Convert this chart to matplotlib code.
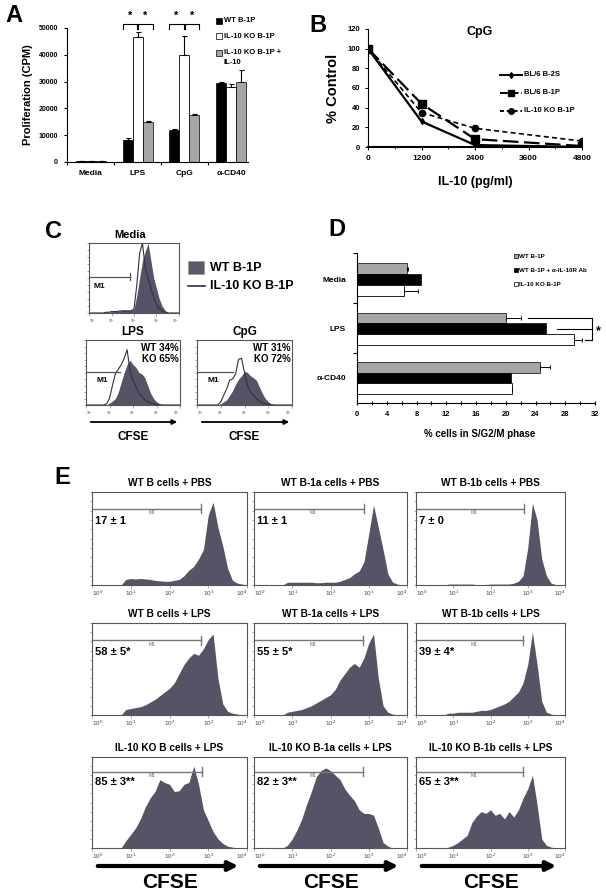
import numpy as np
import matplotlib
matplotlib.use('Agg')
import matplotlib.pyplot as plt
from matplotlib.patches import FancyArrowPatch, Rectangle
from matplotlib.lines import Line2D

plt.rcParams['font.family'] = ['Liberation Sans', 'DejaVu Sans']
plt.rcParams['font.weight'] = 'bold'
plt.rcParams['mathtext.default'] = 'regular'

# ---------------- data ----------------
# panel A: proliferation (CPM)
cats_A = ['Media', 'LPS', 'CpG', 'α-CD40']
wt_a = [300, 8200, 11800, 29500]
wt_a_err = [50, 700, 400, 200]
ko_a = [500, 46500, 40000, 28000]
ko_a_err = [50, 1900, 7000, 1000]
koil_a = [500, 15000, 17500, 30000]
koil_a_err = [50, 300, 300, 4300]

# panel B: % control vs IL-10
dose_B = [0, 1200, 2400, 4800]
b2s_B = [100, 26, 2, 0]
b1p_B = [100, 44, 8, 1]
kob1p_B = [100, 35, 19, 6]

# panel D: % cells in S/G2/M
cats_D = ['Media', 'LPS', 'α-CD40']
wt_D = [6.7, 20.0, 24.6]
wt_D_err = [0.2, 2.0, 1.4]
anti_D = [8.6, 25.4, 20.7]
ko_D = [6.3, 29.2, 20.8]
ko_D_err = [1.9, 1.1, 0]

# CFSE histograms, log10 fluorescence 0..4 in steps of 1/8, counts as % of box height
logx = np.arange(33) / 8.0
c_media_wt = [0, 0, 0, 0, 0, 0, 1, 1, 2, 2, 3, 3, 4, 4, 4, 4,
              6, 25, 50, 75, 88, 100, 75, 50, 35, 20, 10, 4, 1, 0, 0, 0, 0]
c_media_ko = [0, 0, 0, 0, 0, 0, 1, 1, 2, 2, 2, 3, 3, 3, 3, 3,
              6, 40, 85, 100, 65, 50, 35, 22, 12, 6, 3, 1, 0, 0, 0, 0, 0]
c_lps_wt = [0, 0, 0, 0, 0, 0, 0, 0, 3, 6, 10, 20, 35, 50, 62, 69,
            62, 58, 50, 48, 42, 30, 18, 10, 5, 2, 1, 0, 0, 0, 0, 0, 0]
c_lps_ko = [0, 0, 0, 0, 0, 0, 0, 2, 10, 30, 48, 55, 62, 72, 85, 52,
            38, 28, 18, 13, 8, 5, 3, 2, 1, 0, 0, 0, 0, 0, 0, 0, 0]
c_cpg_wt = [0, 0, 0, 0, 0, 0, 0, 0, 2, 5, 8, 15, 22, 32, 40, 45,
            52, 50, 45, 42, 38, 28, 18, 10, 5, 2, 1, 0, 0, 0, 0, 0, 0]
c_cpg_ko = [0, 0, 0, 0, 0, 0, 0, 0, 5, 15, 25, 38, 40, 48, 70, 72,
            50, 30, 20, 15, 10, 6, 3, 2, 1, 0, 0, 0, 0, 0, 0, 0, 0]

e_hists = [
    [0] * 7 + [6, 7, 6.5, 7, 6.5, 6, 5, 4.5, 4] + [4, 5, 6, 10, 16, 20, 28, 38] + [75, 89, 62, 42, 18, 5, 2, 1, 0],
    [0] * 7 + [3, 3, 3, 3, 3, 3, 2.5, 2.5, 3] + [3, 3, 4, 6, 8, 12, 15, 25] + [55, 86, 62, 38, 12, 3, 1, 0, 0],
    [0] * 7 + [1, 1, 1, 1, 1, 1, 0.5, 0.5, 0.5] + [1, 1, 1, 1, 1, 2, 4, 10] + [40, 88, 70, 28, 10, 2, 0.5, 0, 0],
    [0] * 7 + [6, 7, 8, 9, 11, 14, 17, 21, 25] + [29, 35, 45, 55, 62, 67, 65, 72] + [82, 88, 40, 12, 4, 2, 1, 0, 0],
    [0] * 7 + [3, 4, 5, 6, 8, 10, 13, 16, 19] + [22, 28, 38, 45, 52, 56, 52, 62] + [78, 88, 40, 10, 3, 1, 0, 0, 0],
    [0] * 7 + [2, 2, 3, 3, 3, 3, 4, 5, 5] + [6, 8, 10, 12, 15, 20, 25, 35] + [55, 90, 55, 15, 3, 1, 0, 0, 0],
    [0] * 7 + [8, 15, 22, 32, 45, 55, 62, 75, 72] + [70, 62, 63, 70, 72, 90, 70, 42] + [30, 18, 10, 5, 2, 1, 0, 0, 0],
    [0] * 7 + [3, 10, 20, 32, 48, 62, 78, 85, 88] + [85, 80, 75, 65, 58, 52, 42, 38] + [38, 36, 22, 6, 2, 0, 0, 0, 0],
    [0] * 7 + [1, 3, 6, 10, 14, 28, 35, 40, 38] + [42, 36, 38, 32, 40, 34, 42, 55] + [65, 80, 48, 10, 3, 1, 0, 0, 0],
]
e_titles = ['WT B cells + PBS', 'WT B-1a cells + PBS', 'WT B-1b cells + PBS',
            'WT B cells + LPS', 'WT B-1a cells + LPS', 'WT B-1b cells + LPS',
            'IL-10 KO B cells + LPS', 'IL-10 KO B-1a cells + LPS', 'IL-10 KO B-1b cells + LPS']
e_labels = ['17 ± 1', '11 ± 1', '7 ± 0', '58 ± 5*', '55 ± 5*', '39 ± 4*',
            '85 ± 3**', '82 ± 3**', '65 ± 3**']
e_m1_end = [2.81, 2.88, 2.90, 2.81, 2.85, 2.87, 2.83, 2.85, 2.88]

# ---------------- helpers ----------------
W, H = 606, 892
fig = plt.figure(figsize=(W / 100, H / 100), dpi=100)
HIST = '#545466'


def axes_px(x0, y0, x1, y1):
    return fig.add_axes([x0 / W, 1 - y1 / H, (x1 - x0) / W, (y1 - y0) / H])


def txt(x, y, s, size, **kw):
    kw.setdefault('ha', 'center')
    kw.setdefault('va', 'center')
    fig.text(x / W, 1 - y / H, s, fontsize=size, fontweight='bold', **kw)


def arrow(x0, x1, y, lw, scale):
    a = FancyArrowPatch((x0 / W, 1 - y / H), (x1 / W, 1 - y / H), transform=fig.transFigure,
                        arrowstyle='-|>', mutation_scale=scale, lw=lw, color='black')
    fig.add_artist(a)


def flow_axes(ax, tick_size=4.5):
    ax.set_xscale('log')
    ax.set_xlim(1, 1e4)
    ax.set_ylim(0, 100)
    for s in ax.spines.values():
        s.set_color('#555555')
        s.set_linewidth(0.8)
    ax.set_yticks(np.arange(0, 101, 10))
    ax.set_yticklabels([])
    ax.tick_params(axis='y', length=1.5, width=0.4, color='#666666')
    ax.set_xticks([1, 10, 100, 1000, 10000])
    ax.set_xticklabels(['$10^0$', '$10^1$', '$10^2$', '$10^3$', '$10^4$'],
                       fontsize=tick_size, color='#444444', fontweight='normal')
    labs = ax.get_xticklabels()
    labs[0].set_ha('left')
    labs[-1].set_ha('right')
    ax.tick_params(axis='x', which='major', length=2, width=0.4, color='#666666', pad=1)
    ax.tick_params(axis='x', which='minor', length=1, width=0.3, color='#666666')


def m1(ax, end, y, tick=True, color='#555555', lw=0.9):
    ax.plot([1, 10 ** end], [y, y], color=color, lw=lw)
    if tick:
        ax.plot([10 ** end, 10 ** end], [y - 5, y + 5], color=color, lw=lw)


# ---------------- panel A ----------------
txt(14, 16, 'A', 17)
ax = axes_px(67, 28, 248, 162)
pos = np.arange(len(cats_A))
w = 0.213
ekw = dict(lw=0.8, capsize=1.8, capthick=0.8, ecolor='black')
ax.bar(pos - w, wt_a, w, color='black', edgecolor='black', lw=0.5,
       yerr=[np.zeros(4), wt_a_err], error_kw=ekw)
ax.bar(pos, ko_a, w, color='white', edgecolor='black', lw=0.6,
       yerr=[np.zeros(4), ko_a_err], error_kw=ekw)
ax.bar(pos + w, koil_a, w, color='#a6a6a6', edgecolor='black', lw=0.5,
       yerr=[np.zeros(4), koil_a_err], error_kw=ekw)
ax.set_xlim(-0.51, 3.36)
ax.set_ylim(0, 50000)
ax.spines['top'].set_visible(False)
ax.spines['right'].set_visible(False)
ax.set_yticks(range(0, 50001, 10000))
ax.set_yticklabels([str(v) for v in range(0, 50001, 10000)], fontsize=5)
ax.tick_params(axis='y', length=2.5, width=0.8, pad=4)
ax.set_xticks(pos)
ax.set_xticklabels(cats_A, fontsize=6)
ax.set_xticks([-0.5, 0.5, 1.5, 2.5], minor=True)
ax.tick_params(axis='x', which='major', length=0, pad=6)
ax.tick_params(axis='x', which='minor', length=2.5, width=0.8)
for g in [1, 2]:
    for x0, x1 in [(g - 0.32, g - 0.01), (g + 0.01, g + 0.32)]:
        ax.plot([x0, x0, x1, x1], [49800, 51600, 51600, 49800], color='black', lw=0.8, clip_on=False)
        ax.text((x0 + x1) / 2, 54500, '*', fontsize=8, ha='center', va='center')
txt(28, 95, 'Proliferation (CPM)', 8, rotation=90)
for y, c, lab in [(21, 'black', 'WT B-1P'), (36, 'white', 'IL-10 KO B-1P'),
                  (53, '#a6a6a6', 'IL-10 KO B-1P +')]:
    fig.add_artist(Rectangle((216 / W, 1 - (y + 3) / H), 6 / W, 6 / H, transform=fig.transFigure,
                             facecolor=c, edgecolor='black', lw=0.5))
    txt(224, y, lab, 5.5, ha='left')
txt(224, 62, 'IL-10', 5.5, ha='left')

# ---------------- panel B ----------------
txt(318, 25, 'B', 17)
ax = axes_px(368, 29, 582, 147)
ax.plot(dose_B, b2s_B, color='black', lw=1.6, marker='d', ms=3)
ax.plot(dose_B, b1p_B, color='black', lw=1.6, dashes=(7, 2.5), marker='s', ms=5.5)
ax.plot(dose_B, kob1p_B, color='black', lw=1.2, dashes=(3, 2), marker='o', ms=4.5)
ax.set_xlim(0, 4800)
ax.set_ylim(0, 120)
ax.spines['top'].set_visible(False)
ax.spines['right'].set_visible(False)
ax.spines['bottom'].set_linewidth(1.5)
ax.set_xticks(range(0, 4801, 1200))
ax.set_xticklabels([str(v) for v in range(0, 4801, 1200)], fontsize=6)
ax.set_xticks(range(600, 4800, 1200), minor=True)
ax.set_yticks(range(0, 121, 20))
ax.set_yticklabels([str(v) for v in range(0, 121, 20)], fontsize=5.5)
ax.tick_params(axis='both', length=2.5, width=0.8, pad=3)
ax.tick_params(axis='x', which='minor', length=1.5)
txt(480, 32, 'CpG', 9)
txt(475, 182, 'IL-10 (pg/ml)', 9)
txt(333, 88, '% Control', 10.5, rotation=90)
for y, ls, mk, ms, lab in [(75, '-', 'd', 3, 'BL/6 B-2S'), (93, (0, (4, 1.5)), 's', 5, 'BL/6 B-1P'),
                           (111, (0, (2, 1.5)), 'o', 4, 'IL-10 KO B-1P')]:
    fig.add_artist(Line2D([500 / W, 522 / W], [1 - y / H] * 2, transform=fig.transFigure,
                          color='black', lw=1.4, linestyle=ls))
    fig.add_artist(Line2D([511 / W], [1 - y / H], transform=fig.transFigure,
                          color='black', marker=mk, ms=ms))
    txt(524, y, lab, 5.5, ha='left')

# ---------------- panel C ----------------
txt(53, 232, 'C', 17)
grid_x = 10 ** logx
ax = axes_px(89, 243, 179, 313)
ax.fill_between(grid_x, c_media_wt, color=HIST, lw=0)
ax.plot(grid_x, c_media_ko, color='#303040', lw=0.8)
flow_axes(ax, 2.5)
m1(ax, 1.82, 52)
ax.text(10 ** 0.45, 38, 'M1', fontsize=6, ha='center', va='center')
txt(130, 235, 'Media', 8)

for (x0, x1), wt, ko, end, name, pct in [((86, 180), c_lps_wt, c_lps_ko, 1.43, 'LPS', 'WT 34%\nKO 65%'),
                                          ((197, 292), c_cpg_wt, c_cpg_ko, 1.5, 'CpG', 'WT 31%\nKO 72%')]:
    ax = axes_px(x0, 340, x1, 405)
    ax.fill_between(grid_x, wt, color=HIST, lw=0)
    ax.plot(grid_x, ko, color='#303040', lw=0.8)
    flow_axes(ax, 2.5)
    m1(ax, end, 51, tick=False)
    ax.text(10 ** 0.7, 37, 'M1', fontsize=6, ha='center', va='center')
    ax.text(10 ** 3.95, 96, pct, fontsize=7, ha='right', va='top', linespacing=1.2)
    txt((x0 + x1) / 2, 332, name, 8.5)
    arrow(x0 + 2, x1, 422, 1.3, 7)
    txt((x0 + x1) / 2, 437, 'CFSE', 8.5)

fig.add_artist(Rectangle((188 / W, 1 - 274 / H), 16 / W, 13 / H, transform=fig.transFigure,
                         facecolor='#5a5a6a', edgecolor='#999999', lw=0.5))
txt(210, 268, 'WT B-1P', 9, ha='left')
fig.add_artist(Line2D([188 / W, 205 / W], [1 - 286 / H] * 2, transform=fig.transFigure,
                      color='#303040', lw=1.2))
txt(210, 286, 'IL-10 KO B-1P', 9, ha='left')

# ---------------- panel D ----------------
txt(337, 230, 'D', 17)
ax = axes_px(357, 253, 595, 403)
cen = np.arange(len(cats_D))
h = 0.224
ekw = dict(lw=0.7, capsize=1.5, capthick=0.7, ecolor='black')
ax.barh(cen - h, wt_D, h, color='#a6a6a6', edgecolor='black', lw=0.5,
        xerr=[np.zeros(3), wt_D_err], error_kw=ekw)
ax.barh(cen, anti_D, h, color='black', edgecolor='black', lw=0.5)
ax.barh(cen + h, ko_D, h, color='white', edgecolor='black', lw=0.6,
        xerr=[np.zeros(3), ko_D_err], error_kw=ekw)
ax.set_xlim(0, 32)
ax.set_ylim(2.51, -0.55)
ax.spines['top'].set_visible(False)
ax.spines['right'].set_visible(False)
ax.set_yticks(cen)
ax.set_yticklabels(cats_D, fontsize=6)
ax.set_yticks([-0.55, 0.47, 1.49], minor=True)
ax.tick_params(axis='y', which='major', length=0, pad=8)
ax.tick_params(axis='y', which='minor', length=3, width=0.8)
ax.set_xticks(range(0, 33, 4))
ax.set_xticklabels([str(v) for v in range(0, 33, 4)], fontsize=5.5)
ax.set_xticks(range(2, 33, 4), minor=True)
ax.tick_params(axis='x', which='both', direction='inout', length=3.5, width=0.8, pad=4)
# significance bracket
ax.plot([23.0, 31.6], [1 - h, 1 - h], color='black', lw=0.8, clip_on=False)
ax.plot([26.9, 31.6], [1, 1], color='black', lw=0.8, clip_on=False)
ax.plot([30.6, 31.6], [1 + h, 1 + h], color='black', lw=0.8, clip_on=False)
ax.plot([31.6, 31.6], [1 - h, 1 + h], color='black', lw=0.8, clip_on=False)
ax.text(32.4, 1.05, '*', fontsize=9, ha='center', va='center', clip_on=False)
txt(480, 434, '% cells in S/G2/M phase', 7)
for y, c, lab in [(256, '#a6a6a6', 'WT B-1P'), (270, 'black', 'WT B-1P + α-IL-10R Ab'),
                  (284, 'white', 'IL-10 KO B-1P')]:
    fig.add_artist(Rectangle((514 / W, 1 - (y + 2) / H), 4 / W, 4 / H, transform=fig.transFigure,
                             facecolor=c, edgecolor='black', lw=0.5))
    txt(519, y, lab, 4.5, ha='left')

# ---------------- panel E ----------------
txt(62, 477, 'E', 17)
cols = [(92, 247), (254, 407), (416, 565)]
rows = [(492, 585), (623, 715), (757, 848)]
m1_y = [82, 81, 84]
num_y = [69, 69, 73]
for i in range(9):
    r, c = divmod(i, 3)
    x0, x1 = cols[c]
    y0, y1 = rows[r]
    ax = axes_px(x0, y0, x1, y1)
    ax.fill_between(grid_x, e_hists[i], color=HIST, lw=0)
    flow_axes(ax, 4.5)
    m1(ax, e_m1_end[i], m1_y[r], color='#777777', lw=1.0)
    ax.text(10 ** 1.55, m1_y[r] - 4, 'M1', fontsize=3.5, color='#666666', fontweight='normal',
            ha='center', va='center')
    ax.text(10 ** 0.08, num_y[r], e_labels[i], fontsize=8, ha='left', va='center')
    txt((x0 + x1) / 2, y0 - 9, e_titles[i], 7.3)
    if r == 2:
        arrow(x0 + 3, x1 - 6, 866, 3, 14)
        txt((x0 + x1) / 2, 882, 'CFSE', 15)

fig.savefig('out.png', dpi=100)
